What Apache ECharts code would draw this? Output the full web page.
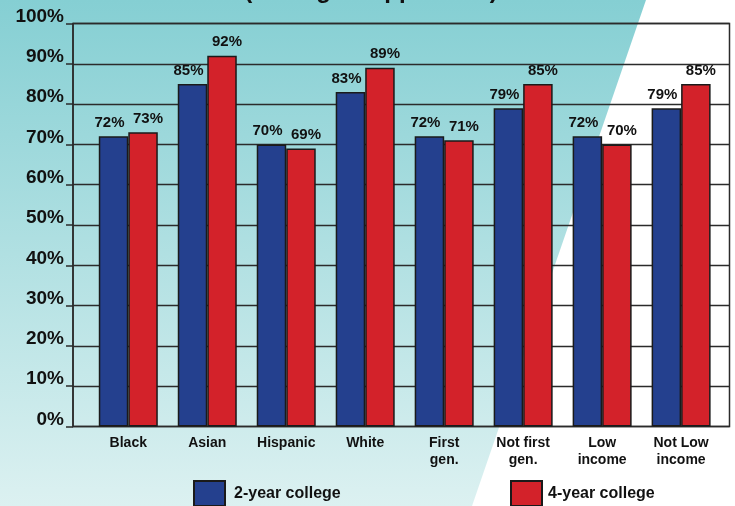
<!DOCTYPE html>
<html>
<head>
<meta charset="utf-8">
<script src="https://cdn.jsdelivr.net/npm/echarts@6/dist/echarts.min.js"></script>
<style>
  html, body { margin: 0; padding: 0; background: #fff; }
  #chart { width: 735px; height: 506px; }
</style>
</head>
<body>
<div id="chart"></div>
<script>
const categories = ['Black', 'Asian', 'Hispanic', 'White', 'First\ngen.', 'Not first\ngen.', 'Low\nincome', 'Not Low\nincome']
const twoYear = [72, 85, 70, 83, 72, 79, 72, 79]
const fourYear = [73, 92, 69, 89, 71, 85, 70, 85]
const seriesNames = ['2-year college', '4-year college']

const FONT = 'Liberation Sans, Arial, sans-serif'
const chart = echarts.init(document.getElementById('chart'))

// value labels sit slightly outward from each bar pair
const barLabel = (dx) => ({
  show: true,
  position: 'top',
  distance: 6,
  offset: [dx, 0],
  formatter: '{c}%',
  fontFamily: FONT,
  fontWeight: 'bold',
  fontSize: 15,
  color: '#111'
})

const option = {
  animation: false,
  graphic: [
    {
      type: 'polygon',
      z: -10,
      silent: true,
      shape: { points: [[0, 0], [646, 0], [472, 506], [0, 506]] },
      style: {
        fill: new echarts.graphic.LinearGradient(0, 0, 0, 1, [
          { offset: 0, color: '#85cfd3' },
          { offset: 1, color: '#dcf1f1' }
        ])
      }
    },
    {
      // title mostly cropped off the top edge
      type: 'text',
      z: -5,
      silent: true,
      x: 371,
      y: 3,
      style: {
        text: '(among all applicants)',
        font: 'bold 24px ' + FONT,
        fill: '#111',
        align: 'center',
        verticalAlign: 'bottom'
      }
    }
  ],
  legend: [
    {
      data: [seriesNames[0]],
      left: 193,
      top: 480,
      padding: 0,
      icon: 'rect',
      itemWidth: 31,
      itemHeight: 25,
      textStyle: { fontFamily: FONT, fontWeight: 'bold', fontSize: 16, color: '#111', padding: [0, 0, 0, 4] }
    },
    {
      data: [seriesNames[1]],
      left: 510,
      top: 480,
      padding: 0,
      icon: 'rect',
      itemWidth: 31,
      itemHeight: 25,
      textStyle: { fontFamily: FONT, fontWeight: 'bold', fontSize: 16, color: '#111', padding: [0, 0, 0, 1] }
    }
  ],
  grid: [
    {
      left: 73, right: 5.5, top: 23.5, bottom: 79.5,
      show: true, borderColor: '#2b2b2b', borderWidth: 1.5, backgroundColor: 'transparent'
    },
    { left: 88.8, right: 14.4, top: 23.5, bottom: 79.5 }
  ],
  xAxis: [
    { gridIndex: 0, type: 'value', min: 0, max: 1, show: false },
    {
      gridIndex: 1,
      type: 'category',
      data: categories,
      axisLine: { show: false },
      axisTick: { show: false },
      axisLabel: {
        margin: 8,
        interval: 0,
        fontFamily: FONT,
        fontWeight: 'bold',
        fontSize: 14,
        lineHeight: 17,
        color: '#111'
      }
    }
  ],
  yAxis: [
    {
      gridIndex: 0,
      type: 'value',
      min: 0,
      max: 100,
      interval: 10,
      axisLine: { show: true, lineStyle: { color: '#2b2b2b', width: 1.5 } },
      axisTick: { show: true, length: 7, lineStyle: { color: '#2b2b2b', width: 1.5 } },
      splitLine: { show: true, lineStyle: { color: '#2b2b2b', width: 1.3 } },
      axisLabel: {
        formatter: '{value}%',
        margin: 9,
        fontFamily: FONT,
        fontWeight: 'bold',
        fontSize: 19,
        lineHeight: 14,
        color: '#111',
        verticalAlign: 'bottom'
      }
    },
    { gridIndex: 1, type: 'value', min: 0, max: 100, show: false }
  ],
  series: [
    {
      name: seriesNames[0],
      type: 'bar',
      xAxisIndex: 1,
      yAxisIndex: 1,
      data: twoYear,
      barWidth: 29.5,
      barGap: '0%',
      itemStyle: { color: '#24408e', borderColor: '#1a1a1a', borderWidth: 1.5 },
      label: barLabel(-4)
    },
    {
      name: seriesNames[1],
      type: 'bar',
      xAxisIndex: 1,
      yAxisIndex: 1,
      data: fourYear,
      barWidth: 29.5,
      barGap: '0%',
      itemStyle: { color: '#d3222a', borderColor: '#1a1a1a', borderWidth: 1.5 },
      label: barLabel(5)
    }
  ]
}

chart.setOption(option)
</script>
</body>
</html>
